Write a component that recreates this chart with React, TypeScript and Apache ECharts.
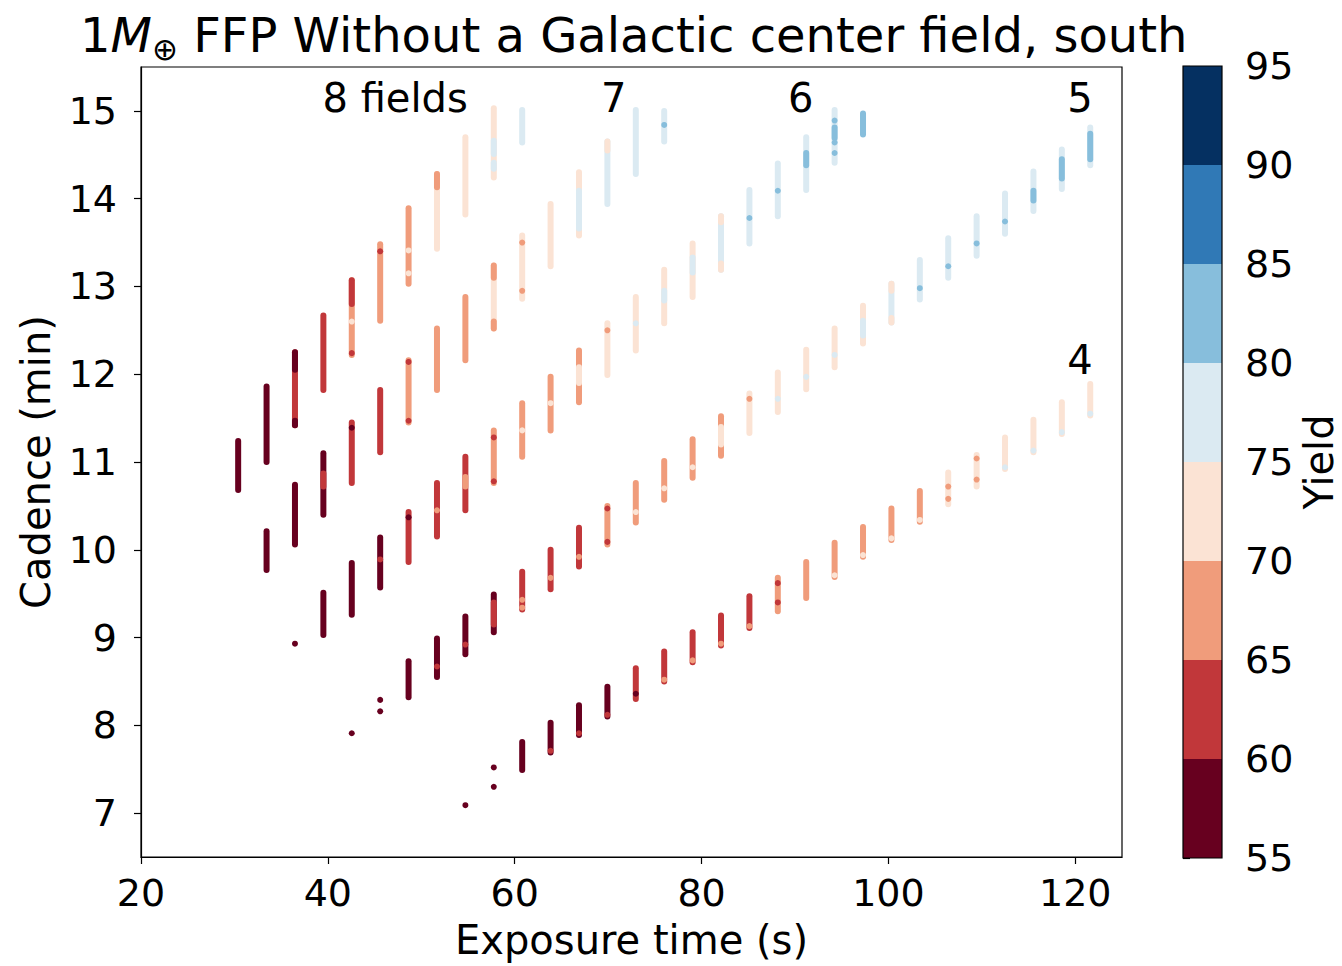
import React, { useEffect, useRef } from 'react';
import * as echarts from 'echarts';

const FONT = '"DejaVu Sans", "Liberation Sans", sans-serif';

// Axis ticks
const xTicks = [20, 40, 60, 80, 100, 120];
const yTicks = [7, 8, 9, 10, 11, 12, 13, 14, 15];
const yieldEdges = [55, 60, 65, 70, 75, 80, 85, 90, 95];
const yieldColors = ['#67001f', '#c1373a', '#f09c7b', '#fbe3d4', '#dbeaf2', '#87bedc', '#3079b6', '#053061'];

// Band labels (number of fields)
const bandLabels = ['8 fields', '7', '6', '5', '4'];
const bandLabelExposure = [47.2, 70.6, 90.6, 120.5, 120.5];
const bandLabelCadence = [15.15, 15.15, 15.15, 15.15, 12.16];

// Strips: [exposure (s), cadence top (min), cadence bottom (min), yield]
const strips8Fields = [
  [30.4, 11.24, 10.68, 57],
  [33.44, 11.86, 11.0, 57],
  [36.48, 12.25, 11.42, 62],
  [36.48, 12.25, 12.05, 57],
  [36.48, 11.47, 11.42, 57],
  [39.52, 12.67, 11.82, 62],
  [42.56, 13.07, 12.22, 67],
  [42.56, 13.07, 12.8, 62],
  [45.6, 13.48, 12.61, 67],
  [48.64, 13.89, 13.03, 67],
  [51.68, 14.28, 13.43, 72],
  [51.68, 14.28, 14.13, 67],
  [54.72, 14.7, 13.82, 72],
  [57.76, 15.03, 14.24, 72],
  [57.76, 14.66, 14.51, 77],
  [57.76, 14.41, 14.34, 77],
  [60.8, 15.01, 14.64, 77],
];
// Dots: [exposure (s), cadence (min), yield]
const dots8Fields = [
  [42.56, 12.6, 72], [42.56, 12.24, 62], [45.6, 13.4, 62], [48.64, 13.41, 72], [48.64, 13.15, 72],
];

const strips7Fields = [
  [33.44, 10.21, 9.77, 57],
  [36.48, 10.74, 10.06, 57],
  [39.52, 11.1, 10.4, 57],
  [39.52, 10.87, 10.72, 62],
  [42.56, 11.45, 10.76, 62],
  [45.6, 11.82, 11.11, 62],
  [48.64, 12.16, 11.45, 67],
  [51.68, 12.52, 11.82, 67],
  [54.72, 12.88, 12.16, 67],
  [57.76, 13.24, 12.52, 72],
  [57.76, 13.24, 13.1, 67],
  [57.76, 12.6, 12.52, 67],
  [60.8, 13.58, 12.86, 72],
  [63.84, 13.94, 13.23, 72],
  [66.88, 14.3, 13.58, 72],
  [66.88, 14.09, 13.66, 77],
  [69.92, 14.65, 13.94, 77],
  [69.92, 14.65, 14.55, 72],
  [72.96, 15.01, 14.28, 77],
  [76.0, 15.0, 14.65, 77],
];
const dots7Fields = [
  [42.56, 11.39, 57], [48.64, 12.14, 62], [48.64, 11.47, 62], [60.8, 13.5, 67], [60.8, 12.95, 67], [76.0, 14.84, 82],
];

const strips6Fields = [
  [39.52, 9.51, 9.03, 57],
  [42.56, 9.85, 9.26, 57],
  [45.6, 10.14, 9.57, 57],
  [48.64, 10.43, 9.86, 62],
  [51.68, 10.76, 10.15, 62],
  [54.72, 11.06, 10.45, 62],
  [54.72, 10.83, 10.72, 67],
  [57.76, 11.36, 10.76, 67],
  [60.8, 11.67, 11.06, 67],
  [63.84, 11.97, 11.36, 67],
  [66.88, 12.27, 11.68, 67],
  [66.88, 12.08, 11.9, 72],
  [69.92, 12.58, 11.99, 72],
  [72.96, 12.88, 12.27, 72],
  [76.0, 13.19, 12.58, 72],
  [76.0, 12.95, 12.84, 77],
  [79.04, 13.49, 12.88, 72],
  [79.04, 13.33, 13.16, 77],
  [82.08, 13.8, 13.19, 77],
  [82.08, 13.8, 13.73, 72],
  [82.08, 13.26, 13.19, 72],
  [85.12, 14.1, 13.49, 77],
  [88.16, 14.4, 13.8, 77],
  [91.2, 14.7, 14.1, 77],
  [91.2, 14.52, 14.38, 82],
  [94.24, 15.01, 14.41, 77],
  [94.24, 14.81, 14.69, 82],
  [97.28, 14.97, 14.73, 82],
];
const dots6Fields = [
  [36.48, 8.93, 57], [45.6, 9.89, 62], [48.64, 10.37, 57], [51.68, 10.45, 67], [57.76, 11.28, 62],
  [57.76, 10.78, 62], [60.8, 11.36, 72], [63.84, 11.67, 72], [69.92, 12.5, 67], [72.96, 12.58, 77],
  [85.12, 13.78, 82], [88.16, 14.09, 82], [94.24, 14.89, 82], [94.24, 14.64, 82], [94.24, 14.52, 82],
];

const strips5Fields = [
  [48.64, 8.73, 8.32, 57],
  [51.68, 8.99, 8.55, 57],
  [54.72, 9.24, 8.81, 57],
  [57.76, 9.49, 9.06, 57],
  [57.76, 9.4, 9.15, 62],
  [60.8, 9.75, 9.32, 62],
  [63.84, 10.0, 9.55, 62],
  [66.88, 10.25, 9.81, 62],
  [69.92, 10.5, 10.06, 67],
  [72.96, 10.76, 10.31, 67],
  [76.0, 11.01, 10.57, 67],
  [79.04, 11.26, 10.82, 67],
  [82.08, 11.52, 11.07, 67],
  [82.08, 11.4, 11.2, 72],
  [85.12, 11.78, 11.33, 72],
  [88.16, 12.02, 11.57, 72],
  [91.2, 12.28, 11.83, 72],
  [94.24, 12.52, 12.08, 72],
  [97.28, 12.78, 12.35, 72],
  [97.28, 12.61, 12.44, 77],
  [100.32, 13.03, 12.59, 77],
  [100.32, 13.03, 12.95, 72],
  [100.32, 12.64, 12.59, 72],
  [103.36, 13.3, 12.85, 77],
  [106.4, 13.55, 13.1, 77],
  [109.44, 13.8, 13.35, 77],
  [112.48, 14.06, 13.6, 77],
  [115.52, 14.31, 13.86, 77],
  [115.52, 14.09, 13.98, 82],
  [118.56, 14.56, 14.11, 77],
  [118.56, 14.45, 14.23, 82],
  [121.6, 14.81, 14.38, 77],
  [121.6, 14.74, 14.45, 82],
];
const dots5Fields = [
  [42.56, 7.91, 57], [45.6, 8.29, 57], [45.6, 8.16, 57], [51.68, 8.67, 62], [54.72, 8.92, 62],
  [60.8, 9.43, 67], [60.8, 9.34, 67], [63.84, 9.68, 67], [66.88, 9.92, 67], [69.92, 10.47, 62],
  [69.92, 10.09, 62], [72.96, 10.43, 72], [76.0, 10.7, 72], [79.04, 10.94, 72], [85.12, 11.72, 67],
  [88.16, 11.72, 77], [91.2, 11.97, 77], [94.24, 12.22, 77], [103.36, 12.98, 82], [106.4, 13.23, 82],
  [109.44, 13.49, 82], [112.48, 13.74, 82],
];

const strips4Fields = [
  [60.8, 7.81, 7.49, 57],
  [63.84, 8.03, 7.69, 57],
  [66.88, 8.23, 7.89, 57],
  [69.92, 8.44, 8.1, 57],
  [72.96, 8.65, 8.3, 62],
  [76.0, 8.84, 8.5, 62],
  [79.04, 9.06, 8.72, 62],
  [82.08, 9.25, 8.91, 62],
  [85.12, 9.47, 9.11, 62],
  [88.16, 9.68, 9.3, 67],
  [91.2, 9.86, 9.45, 67],
  [94.24, 10.08, 9.69, 67],
  [97.28, 10.26, 9.92, 67],
  [100.32, 10.47, 10.11, 67],
  [103.36, 10.67, 10.32, 67],
  [106.4, 10.88, 10.52, 72],
  [109.44, 11.08, 10.72, 72],
  [112.48, 11.28, 10.92, 72],
  [115.52, 11.48, 11.11, 72],
  [118.56, 11.68, 11.32, 72],
  [121.6, 11.89, 11.53, 72],
];
const dots4Fields = [
  [54.72, 7.09, 57], [57.76, 7.52, 57], [57.76, 7.3, 57], [63.84, 7.71, 62], [66.88, 7.91, 62],
  [69.92, 8.12, 62], [72.96, 8.36, 57], [76.0, 8.52, 67], [79.04, 8.74, 67], [82.08, 8.93, 67],
  [85.12, 9.13, 67], [88.16, 9.62, 62], [88.16, 9.4, 62], [94.24, 9.71, 72], [97.28, 9.94, 72],
  [100.32, 10.13, 72], [103.36, 10.34, 72], [106.4, 10.72, 67], [106.4, 10.58, 67], [109.44, 10.8, 67],
  [109.44, 11.04, 67], [112.48, 10.94, 77], [115.52, 11.13, 77], [118.56, 11.34, 77], [121.6, 11.55, 77],
];

function yieldColor(v: number): string {
  for (let i = 0; i < yieldColors.length; i++) {
    if (v >= yieldEdges[i] && v < yieldEdges[i + 1]) return yieldColors[i];
  }
  return v < yieldEdges[0] ? yieldColors[0] : yieldColors[yieldColors.length - 1];
}

const stripSeries = (data: number[][]) => ({
  type: 'custom',
  xAxisIndex: 0,
  yAxisIndex: 0,
  silent: true,
  data,
  renderItem: (_p: any, api: any) => {
    const x = api.value(0);
    const p1 = api.coord([x, api.value(1)]);
    const p2 = api.coord([x, api.value(2)]);
    return {
      type: 'line',
      shape: { x1: p1[0], y1: p1[1], x2: p2[0], y2: p2[1] },
      style: { stroke: yieldColor(api.value(3)), lineWidth: 6, lineCap: 'round' },
    };
  },
});

const dotSeries = (data: number[][]) => ({
  type: 'scatter',
  xAxisIndex: 0,
  yAxisIndex: 0,
  silent: true,
  symbolSize: 6,
  data,
  itemStyle: { color: (p: any) => yieldColor(p.value[2]), opacity: 1 },
});

const colorbarBins = yieldColors.map((_, i) => [yieldEdges[i], yieldEdges[i + 1], i]);

const axisLineStyle = { color: '#000', width: 1.2 };
const tickLabelStyle = { fontSize: 38, color: '#000', fontFamily: FONT };
const nameStyle = { fontSize: 40, color: '#000', fontFamily: FONT };

export default function App() {
  const ref = useRef<HTMLDivElement>(null);
  useEffect(() => {
    document.body.style.margin = '0';
    if (!ref.current) return;
    const chart = echarts.init(ref.current, null, { renderer: 'svg' });
    const option: any = {
      animation: false,
      backgroundColor: '#fff',
      title: {
        left: 75,
        top: 1,
        text: '{n|1}{i|M}{s|⊕}{n| FFP Without a Galactic center field, south}',
        textStyle: {
          fontWeight: 'normal',
          rich: {
            n: { fontSize: 48, fontFamily: FONT, fontWeight: 'normal', color: '#000', lineHeight: 58 },
            i: { fontSize: 48, fontFamily: FONT, fontWeight: 'normal', fontStyle: 'italic', color: '#000', lineHeight: 58 },
            s: { fontSize: 31, fontFamily: FONT, fontWeight: 'normal', color: '#000', lineHeight: 30, verticalAlign: 'bottom' },
          },
        },
      },
      grid: [
        {
          left: 141, top: 67, width: 981, height: 790, show: true, borderColor: '#000', borderWidth: 1.2,
          backgroundColor: 'transparent', containLabel: false, outerBoundsMode: 'none',
        },
        { left: 1183, top: 66, width: 39, height: 792, show: false, containLabel: false, outerBoundsMode: 'none' },
      ],
      xAxis: [
        {
          type: 'value', gridIndex: 0, min: 20, max: 125,
          name: 'Exposure time (s)', nameLocation: 'middle', nameGap: 63,
          nameTextStyle: { ...nameStyle },
          axisLine: { show: true, onZero: false, lineStyle: axisLineStyle },
          axisTick: { show: true, length: 7, customValues: xTicks, lineStyle: axisLineStyle },
          axisLabel: { ...tickLabelStyle, margin: 17, customValues: xTicks },
          splitLine: { show: false },
        },
        { type: 'value', gridIndex: 1, min: 0, max: 1, show: false },
      ],
      yAxis: [
        {
          type: 'value', gridIndex: 0, min: 6.5, max: 15.5,
          name: 'Cadence (min)', nameLocation: 'middle', nameGap: 85, nameRotate: 90,
          nameTextStyle: { ...nameStyle },
          axisLine: { show: true, onZero: false, lineStyle: axisLineStyle },
          axisTick: { show: true, length: 7, customValues: yTicks, lineStyle: axisLineStyle },
          axisLabel: { ...tickLabelStyle, margin: 24, customValues: yTicks },
          splitLine: { show: false },
        },
        {
          type: 'value', gridIndex: 1, min: 55, max: 95, interval: 5, position: 'right',
          name: 'Yield', nameLocation: 'middle', nameGap: 77, nameRotate: 90,
          nameTextStyle: { ...nameStyle },
          axisLine: { show: false },
          axisTick: { show: true, length: 7, lineStyle: axisLineStyle },
          axisLabel: { ...tickLabelStyle, margin: 23 },
          splitLine: { show: false },
        },
      ],
      series: [
        stripSeries(strips8Fields),
        stripSeries(strips7Fields),
        stripSeries(strips6Fields),
        stripSeries(strips5Fields),
        stripSeries(strips4Fields),
        dotSeries(dots8Fields),
        dotSeries(dots7Fields),
        dotSeries(dots6Fields),
        dotSeries(dots5Fields),
        dotSeries(dots4Fields),
        {
          type: 'scatter', xAxisIndex: 0, yAxisIndex: 0, silent: true, symbolSize: 1,
          itemStyle: { color: 'rgba(255,255,255,0)' },
          data: bandLabels.map((t, i) => ({ value: [bandLabelExposure[i], bandLabelCadence[i]], name: t })),
          label: {
            show: true, position: 'inside', formatter: '{b}', ...nameStyle,
            textBorderWidth: 0, textBorderColor: 'transparent', opacity: 1,
          },
        },
        {
          type: 'custom', xAxisIndex: 1, yAxisIndex: 1, silent: true,
          data: colorbarBins,
          renderItem: (_p: any, api: any) => {
            const a = api.coord([0, api.value(0)]);
            const b = api.coord([1, api.value(1)]);
            return {
              type: 'rect',
              shape: { x: a[0], y: b[1], width: b[0] - a[0], height: a[1] - b[1] },
              style: { fill: yieldColors[api.value(2)] },
            };
          },
        },
        {
          type: 'custom', xAxisIndex: 1, yAxisIndex: 1, silent: true, z: 5,
          data: [[yieldEdges[0], yieldEdges[yieldEdges.length - 1]]],
          renderItem: (_p: any, api: any) => {
            const a = api.coord([0, api.value(0)]);
            const b = api.coord([1, api.value(1)]);
            return {
              type: 'rect',
              shape: { x: a[0], y: b[1], width: b[0] - a[0], height: a[1] - b[1] },
              style: { fill: 'none', stroke: '#000', lineWidth: 1.2 },
            };
          },
        },
      ],
    };
    chart.setOption(option);
    return () => chart.dispose();
  }, []);
  return <div ref={ref} style={{ width: 1342, height: 966 }} />;
}
